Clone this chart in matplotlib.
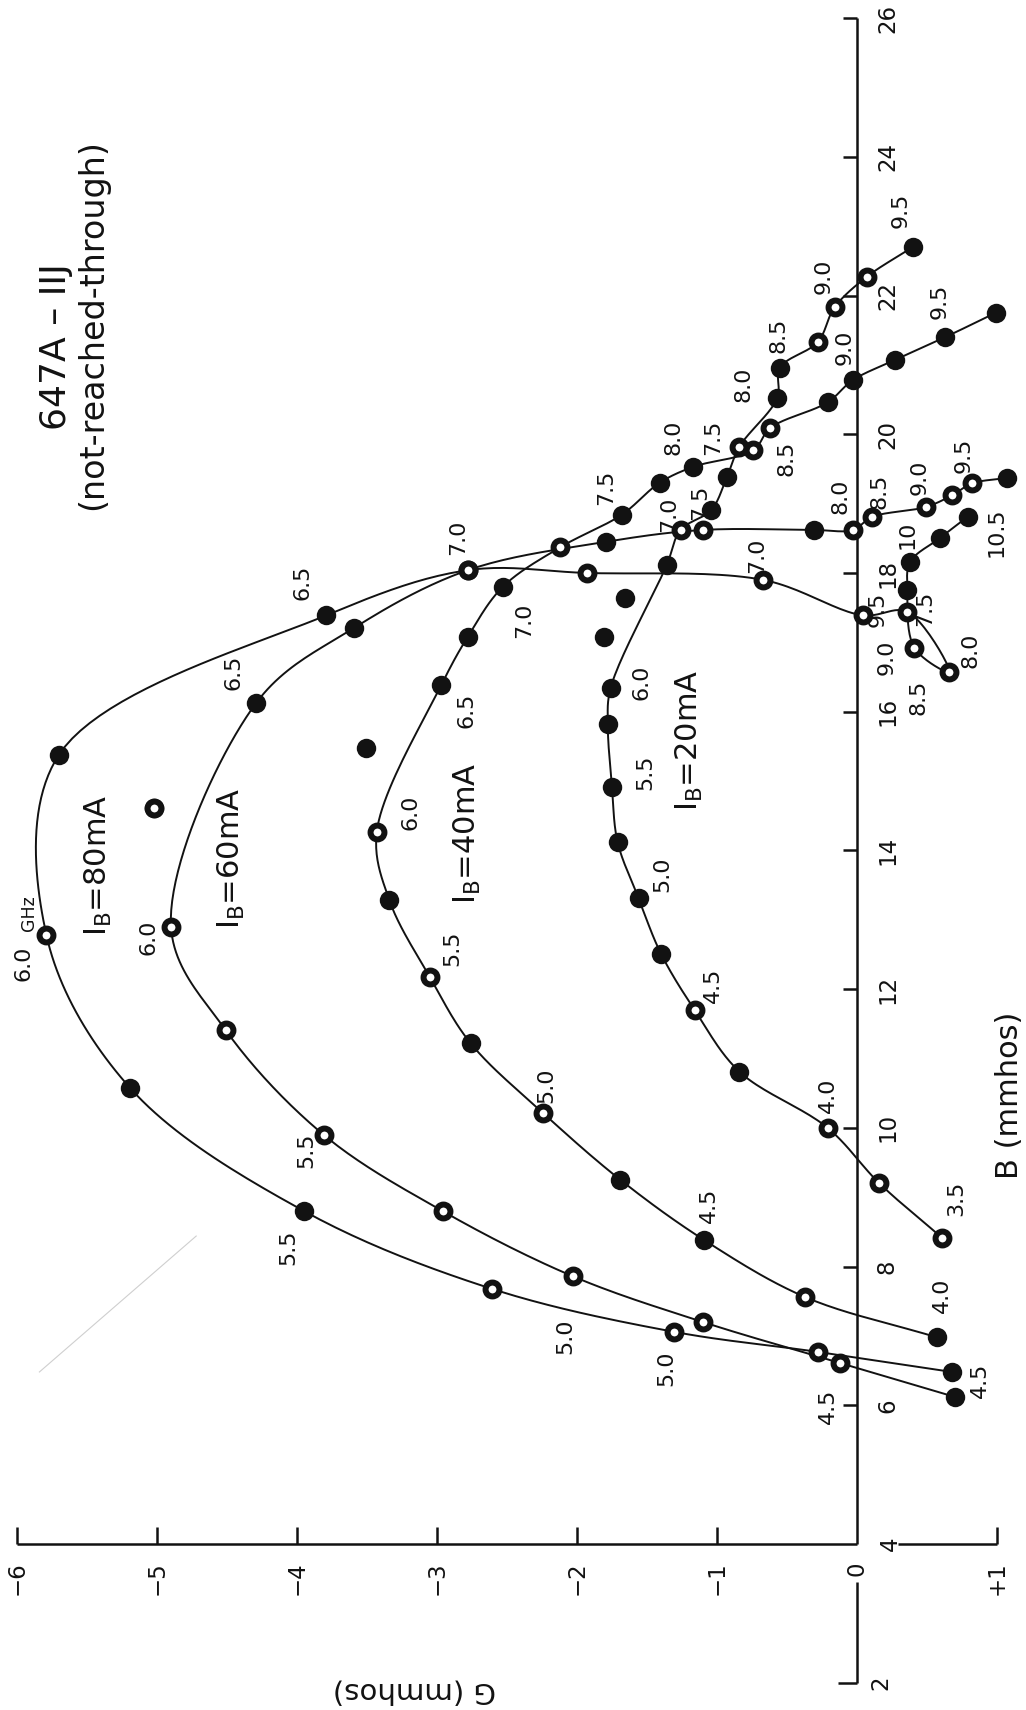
import numpy as np
import matplotlib
matplotlib.use("Agg")
import matplotlib.pyplot as plt

plt.rcParams['font.family'] = ['DejaVu Sans']

# ---------------- measured loci: G (mmhos), B (mmhos) ----------------
# I_B = 80 mA
g_80 = [0.68, -0.28, -1.31, -2.61, -3.95, -5.19, -5.79, -5.70, -3.79, -2.78,
        -1.93, -0.67, 0.04, 0.36, 0.66, 0.41, 0.36, 0.38, 0.59, 0.79]
b_80 = [6.48, 6.77, 7.06, 7.68, 8.80, 10.57, 12.78, 15.38, 17.39, 18.04,
        18.00, 17.90, 17.39, 17.44, 16.57, 16.92, 17.75, 18.16, 18.50, 18.81]
hollow_80 = [1, 2, 3, 6, 9, 10, 11, 12, 13, 14, 15]

# I_B = 60 mA
g_60 = [0.70, -0.12, -1.10, -2.03, -2.96, -3.81, -4.51, -4.90, -4.29, -3.59,
        -2.78, -1.79, -1.10, -0.31, -0.03, 0.11, 0.49, 0.68, 0.82, 1.07]
b_60 = [6.12, 6.61, 7.20, 7.86, 8.80, 9.90, 11.41, 12.90, 16.13, 17.21,
        18.04, 18.45, 18.62, 18.62, 18.62, 18.81, 18.95, 19.12, 19.29, 19.37]
hollow_60 = [1, 2, 3, 4, 5, 6, 7, 10, 12, 14, 15, 16, 17, 18]
g_60_loose = [-5.02]
b_60_loose = [14.61]

# I_B = 40 mA
g_40 = [0.57, -0.37, -1.09, -1.69, -2.24, -2.76, -3.05, -3.34, -3.43, -2.97,
        -2.78, -2.53, -2.12, -1.68, -1.41, -1.17, -0.74, -0.62, -0.21, -0.03,
        0.27, 0.63, 0.99]
b_40 = [6.98, 7.56, 8.38, 9.25, 10.21, 11.22, 12.17, 13.28, 14.27, 16.38,
        17.08, 17.80, 18.37, 18.84, 19.30, 19.53, 19.77, 20.09, 20.46, 20.78,
        21.07, 21.40, 21.75]
hollow_40 = [1, 4, 6, 8, 12, 16, 17]
g_40_loose = [-3.51]
b_40_loose = [15.48]

# I_B = 20 mA
g_20 = [0.61, 0.16, -0.21, -0.84, -1.16, -1.40, -1.56, -1.71, -1.75, -1.78,
        -1.76, -1.36, -1.26, -1.04, -0.93, -0.84, -0.57, -0.55, -0.28, -0.16,
        0.07, 0.40]
b_20 = [8.41, 9.20, 10.00, 10.81, 11.70, 12.51, 13.31, 14.12, 14.91, 15.82,
        16.34, 18.11, 18.62, 18.91, 19.38, 19.82, 20.52, 20.96, 21.33, 21.83,
        22.27, 22.70]
hollow_20 = [0, 1, 2, 4, 12, 15, 18, 19, 20]
g_20_loose = [-1.81, -1.66]
b_20_loose = [17.08, 17.64]

# frequency annotations (GHz) and their anchor points
freq_text = ["6.0", "6.5", "6.5", "7.0", "7.0", "6.5", "6.0", "5.5",
             "6.0", "5.5", "5.0", "4.5", "4.0", "5.0", "5.5", "5.5", "5.0",
             "5.0", "4.5", "4.5", "4.0", "3.5", "4.5",
             "9.5", "9.0", "8.5", "8.0", "9.5", "9.0", "8.5", "8.0", "7.5",
             "7.5", "7.0", "7.5", "8.0", "8.5", "9.0", "9.5", "10.5", "10",
             "7.0", "9.5", "7.5", "9.0", "8.5", "8.0"]
freq_g = [-5.06, -3.96, -4.45, -2.85, -2.38, -2.79, -3.19, -2.89,
          -1.54, -1.51, -1.39, -1.03, -0.21, -2.22, -3.93, -4.06, -2.08,
          -1.36, -0.21, 0.88, 0.61, 0.71, -1.06,
          0.31, -0.24, -0.56, -0.81, 0.59, -0.09, -0.50, -1.31, -1.79,
          -1.03, -1.34, -1.12, -0.12, 0.16, 0.45, 0.76, 1.00, 0.36,
          -0.71, 0.15, 0.49, 0.21, 0.44, 0.81]
freq_b = [12.75, 17.86, 16.57, 18.52, 17.32, 16.02, 14.55, 12.59,
          16.43, 15.12, 13.65, 12.06, 10.47, 10.62, 9.68, 8.28, 7.00,
          6.54, 5.98, 6.36, 7.59, 8.99, 8.89,
          23.23, 22.27, 21.43, 20.72, 21.91, 21.26, 19.66, 19.95, 19.24,
          19.96, 18.84, 19.02, 19.10, 19.17, 19.38, 19.70, 18.59, 18.55,
          18.26, 17.47, 17.49, 16.79, 16.21, 16.89]

current_text = [r"I$_{\mathregular{B}}$=80mA", r"I$_{\mathregular{B}}$=60mA",
                r"I$_{\mathregular{B}}$=40mA", r"I$_{\mathregular{B}}$=20mA"]
current_g = [-5.42, -4.47, -2.78, -1.20]
current_b = [13.78, 13.89, 14.25, 15.59]

g_ticks = [-6, -5, -4, -3, -2, -1, 0, 1]
g_tick_text = ["\u22126", "\u22125", "\u22124", "\u22123", "\u22122", "\u22121", "0", "+1"]
b_ticks = [6, 8, 10, 12, 14, 16, 18, 20, 22, 24, 26]

# ---------------- helpers ----------------
SX, SY = 140.0, 69.36   # pixels per mmho along G and along B


def smooth_path(gs, bs, n=24):
    """Centripetal Catmull-Rom curve through the measured points."""
    p = np.column_stack([np.asarray(gs) * SX, np.asarray(bs) * SY])
    if len(p) < 3:
        return p[:, 0] / SX, p[:, 1] / SY
    p = np.vstack([2 * p[0] - p[1], p, 2 * p[-1] - p[-2]])
    out = []
    for i in range(1, len(p) - 2):
        p0, p1, p2, p3 = p[i - 1], p[i], p[i + 1], p[i + 2]
        t0 = 0.0
        t1 = t0 + max(np.linalg.norm(p1 - p0), 1e-6) ** 0.5
        t2 = t1 + max(np.linalg.norm(p2 - p1), 1e-6) ** 0.5
        t3 = t2 + max(np.linalg.norm(p3 - p2), 1e-6) ** 0.5
        t = np.linspace(t1, t2, n)[:, None]
        a1 = (t1 - t) / (t1 - t0) * p0 + (t - t0) / (t1 - t0) * p1
        a2 = (t2 - t) / (t2 - t1) * p1 + (t - t1) / (t2 - t1) * p2
        a3 = (t3 - t) / (t3 - t2) * p2 + (t - t2) / (t3 - t2) * p3
        b1 = (t2 - t) / (t2 - t0) * a1 + (t - t0) / (t2 - t0) * a2
        b2 = (t3 - t) / (t3 - t1) * a2 + (t - t1) / (t3 - t1) * a3
        c = (t2 - t) / (t2 - t1) * b1 + (t - t1) / (t2 - t1) * b2
        out.append(c if i == 1 else c[1:])
    c = np.vstack(out)
    return c[:, 0] / SX, c[:, 1] / SY


INK = '#121212'
fig = plt.figure(figsize=(10.26, 17.10), dpi=100)
fig.patch.set_facecolor('white')
ax = fig.add_axes([0, 0, 1, 1])
ax.set_xlim(-857 / SX, (1026 - 857) / SX)
ax.set_ylim(4 - (1710 - 1544) / SY, 4 + 1544 / SY)
ax.axis('off')

# ---------------- axes frame ----------------
axis_kw = dict(color=INK, lw=1.8, solid_capstyle='butt', zorder=2)
ax.plot([-6, 0], [4, 4], **axis_kw)
ax.plot([0.29, 1.0], [4, 4], **axis_kw)
for g in g_ticks:
    if g != 0:
        ax.plot([g, g], [4, 4 + 17 / SY], **axis_kw)
ax.plot([0, 0], [4, 26], **axis_kw)
for b in b_ticks:
    ax.plot([-14 / SX, 0], [b, b], **axis_kw)
ax.plot([0, 0], [4 - 38 / SY, 2], **axis_kw)
ax.plot([-19 / SX, 0], [2, 2], **axis_kw)

tick_fs = 16.5
for g, lab in zip(g_ticks, g_tick_text):
    ax.text(g, 4 - 17 / SY, lab, rotation=90, ha='center', va='top',
            fontsize=tick_fs, color=INK)
for b in b_ticks:
    ax.text(19 / SX, b, str(b), rotation=90, ha='left', va='center',
            fontsize=tick_fs, color=INK)
ax.text(22 / SX, 4.0, "4", rotation=90, ha='left', va='center', fontsize=tick_fs, color=INK)
ax.text(12 / SX, 2.0, "2", rotation=90, ha='left', va='center', fontsize=tick_fs, color=INK)

ax.text(1.09, 10.47, "B (mmhos)", rotation=90, ha='center', va='center',
        fontsize=22, color=INK)
ax.text(-3.16, 1.89, "G (mmhos)", rotation=180, ha='center', va='center',
        fontsize=21, color=INK)
ax.text(-5.72, 21.27, "647A \u2013 IIJ", rotation=90, ha='center', va='center',
        fontsize=26, color=INK)
ax.text(-5.46, 21.58, "(not-reached-through)", rotation=90, ha='center',
        va='center', fontsize=24, color=INK)

# faint scratch on the sheet
ax.plot([-4.72, -5.84], [8.44, 6.48], color='#cfcfcf', lw=0.8, zorder=1)

# ---------------- loci ----------------
series = [(g_80, b_80, hollow_80), (g_60, b_60, hollow_60),
          (g_40, b_40, hollow_40), (g_20, b_20, hollow_20)]
loose = [(g_60_loose, b_60_loose), (g_40_loose, b_40_loose),
         (g_20_loose, b_20_loose)]

FILLED = dict(marker='o', ms=14, mfc=INK, mec=INK, mew=0, ls='none', zorder=4)
HOLLOW = dict(marker='o', ms=10, mfc='white', mec=INK, mew=4.3, ls='none', zorder=4)

for gs, bs, hollow in series:
    xs, ys = smooth_path(gs, bs)
    ax.plot(xs, ys, color=INK, lw=1.4, zorder=3, solid_joinstyle='round')
    gs = np.asarray(gs)
    bs = np.asarray(bs)
    solid = [i for i in range(len(gs)) if i not in hollow]
    ax.plot(gs[solid], bs[solid], **FILLED)
    ax.plot(gs[hollow], bs[hollow], **HOLLOW)

for gs, bs in loose:
    ax.plot(gs, bs, **FILLED)
ax.plot(g_60_loose, b_60_loose, **HOLLOW)

# ---------------- annotations ----------------
label_fs = 16
for txt, g, b in zip(freq_text, freq_g, freq_b):
    ax.text(g, b, txt, rotation=90, ha='center', va='center', fontsize=label_fs,
            color=INK, zorder=5)
# first marked frequency carries the unit
ax.text((24 - 857) / SX, 4 + (1544 - 963) / SY, "6.0", rotation=90, ha='center',
        va='center', fontsize=label_fs, color=INK, zorder=5)
ax.text((29 - 857) / SX, 4 + (1544 - 913) / SY, "GHz", rotation=90, ha='center',
        va='center', fontsize=12.5, color=INK, zorder=5)
for txt, g, b in zip(current_text, current_g, current_b):
    ax.text(g, b, txt, rotation=90, ha='center', va='center', fontsize=22,
            color=INK, zorder=5)

fig.savefig("out.png", dpi=100, facecolor='white')
